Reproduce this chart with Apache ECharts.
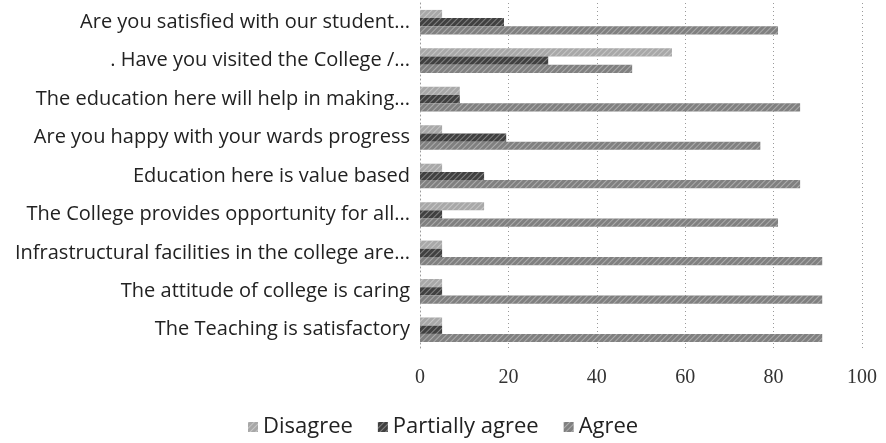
<!DOCTYPE html>
<html>
<head>
<meta charset="utf-8">
<script src="https://cdn.jsdelivr.net/npm/echarts@6/dist/echarts.min.js"></script>
<style>
  html, body { margin: 0; padding: 0; background: #fff; }
  #chart { width: 886px; height: 443px; }
</style>
</head>
<body>
<div id="chart"></div>
<script>
// questions, top to bottom as in the picture
const questions = [
  "Are you satisfied with our student...",
  ". Have you visited the College /...",
  "The education here will help in making...",
  "Are you happy with your wards progress",
  "Education here is value based",
  "The College provides opportunity for all...",
  "Infrastructural facilities in the college are...",
  "The attitude of college is caring",
  "The Teaching is satisfactory"
];

const disagree = [5, 57, 9, 5, 5, 14.5, 5, 5, 5];
const partiallyAgree = [19, 29, 9, 19.5, 14.5, 5, 5, 5, 5];
const agree = [81, 48, 86, 77, 86, 81, 91, 91, 91];

const xTicks = [0, 20, 40, 60, 80, 100];

const chart = echarts.init(document.getElementById("chart"));

const textFont = "'Open Sans', 'Noto Sans', sans-serif";

// scanned look: light diagonal hatching over the grey fill
const hatch = {
  symbol: "rect",
  symbolSize: 1,
  color: "rgba(255, 255, 255, 0.35)",
  dashArrayX: [1, 0],
  dashArrayY: [1, 3],
  rotation: -Math.PI / 4
};

const option = {
  animation: false,
  textStyle: { fontFamily: textFont },
  color: ["#a8a8a8", "#404040", "#808080"],
  legend: {
    top: 411,
    left: 243,
    itemWidth: 10,
    itemHeight: 10,
    itemGap: 25,
    icon: "rect",
    textStyle: { fontSize: 22, color: "#222", fontFamily: textFont },
    data: ["Disagree", "Partially agree", "Agree"]
  },
  grid: {
    left: 420,
    right: 24,
    top: 3,
    bottom: 94,
    containLabel: false
  },
  xAxis: {
    type: "value",
    min: xTicks[0],
    max: xTicks[xTicks.length - 1],
    interval: 20,
    axisLine: { show: false },
    axisTick: { show: false },
    axisLabel: {
      margin: 19,
      fontSize: 20,
      color: "#333",
      fontFamily: "'Liberation Serif', 'DejaVu Serif', serif"
    },
    splitLine: {
      show: true,
      lineStyle: { color: "#9a9a9a", type: [1, 3], width: 1 }
    }
  },
  yAxis: {
    type: "category",
    inverse: true,
    data: questions,
    axisLine: {
      show: true,
      lineStyle: { color: "#9a9a9a", type: [1, 3] }
    },
    axisTick: { show: false },
    axisLabel: {
      margin: 10,
      fontSize: 20,
      color: "#222",
      fontFamily: textFont
    }
  },
  series: [
    {
      name: "Disagree",
      type: "bar",
      barGap: "0%",
      barCategoryGap: "36%",
      itemStyle: { decal: hatch },
      data: disagree
    },
    {
      name: "Partially agree",
      type: "bar",
      barGap: "0%",
      barCategoryGap: "36%",
      itemStyle: { decal: hatch },
      data: partiallyAgree
    },
    {
      name: "Agree",
      type: "bar",
      barGap: "0%",
      barCategoryGap: "36%",
      itemStyle: { decal: hatch },
      data: agree
    }
  ]
};

chart.setOption(option);
</script>
</body>
</html>
